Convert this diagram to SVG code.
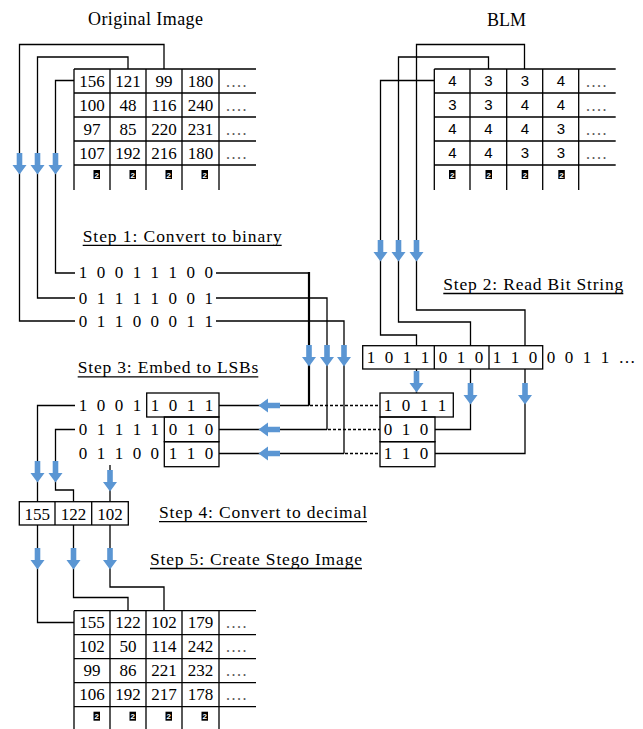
<svg xmlns="http://www.w3.org/2000/svg" xmlns:xlink="http://www.w3.org/1999/xlink" width="643" height="729" viewBox="0 0 643 729">
<style>
.bg{fill:#fff}
.ln{fill:none;stroke:#000;stroke-width:1.3}
.thick{fill:none;stroke:#000;stroke-width:2.2}
.dash{fill:none;stroke:#000;stroke-width:1.3;stroke-dasharray:3 2}
.bx{fill:none;stroke:#000;stroke-width:1.3}
.ar{fill:#5B96D3}
.num{font-family:"Liberation Serif","Times New Roman",serif;font-size:17px;fill:#000;text-anchor:middle}
.sans{font-family:"Liberation Sans",Arial,sans-serif;font-size:15px;fill:#000;text-anchor:middle}
.bits{font-family:"Liberation Serif","Times New Roman",serif;font-size:17px;letter-spacing:2.6px;fill:#000}
.step{font-family:"Liberation Serif","Times New Roman",serif;font-size:17.5px;fill:#000}
.ttl{font-family:"Liberation Serif","Times New Roman",serif;font-size:18px;fill:#000}
.dots{font-family:"Liberation Serif","Times New Roman",serif;font-size:16px;letter-spacing:1.5px;fill:#555}
.ic{fill:#000}
.ict{font-family:"Liberation Sans",Arial,sans-serif;font-size:8px;font-weight:bold;fill:#fff;text-anchor:middle}
</style>
<defs>
<path id="ad" d="M-2.8,0H2.8V12H7L0,21.5L-7,12H-2.8Z"/>
</defs>
<rect class="bg" x="0" y="0" width="643" height="729"/>

<g id="titles">
<text class="ttl" x="88" y="25" textLength="115" lengthAdjust="spacing">Original Image</text>
<text class="ttl" x="487" y="26" textLength="39" lengthAdjust="spacing">BLM</text>
</g>

<g id="original-image">
<path class="ln" d="M74,69H256M74,93H256M74,117H256M74,141H256M74,165H256M74,69V190M110,69V190M146,69V190M182,69V190M219,69V190"/>
<text class="num" x="92" y="86.5">156</text><text class="num" x="128" y="86.5">121</text><text class="num" x="164" y="86.5">99</text><text class="num" x="200.5" y="86.5">180</text>
<text class="num" x="92" y="110.5">100</text><text class="num" x="128" y="110.5">48</text><text class="num" x="164" y="110.5">116</text><text class="num" x="200.5" y="110.5">240</text>
<text class="num" x="92" y="134.5">97</text><text class="num" x="128" y="134.5">85</text><text class="num" x="164" y="134.5">220</text><text class="num" x="200.5" y="134.5">231</text>
<text class="num" x="92" y="158.5">107</text><text class="num" x="128" y="158.5">192</text><text class="num" x="164" y="158.5">216</text><text class="num" x="200.5" y="158.5">180</text>
<text class="dots" x="226" y="86.5">....</text><text class="dots" x="226" y="110.5">....</text><text class="dots" x="226" y="134.5">....</text><text class="dots" x="226" y="158.5">....</text>
<rect class="ic" x="93.5" y="170" width="6.5" height="9"/><text class="ict" x="96.75" y="177.5">2</text>
<rect class="ic" x="129.5" y="170" width="6.5" height="9"/><text class="ict" x="132.75" y="177.5">2</text>
<rect class="ic" x="165.5" y="170" width="6.5" height="9"/><text class="ict" x="168.75" y="177.5">2</text>
<rect class="ic" x="201.5" y="170" width="6.5" height="9"/><text class="ict" x="204.75" y="177.5">2</text>
</g>

<g id="blm">
<path class="ln" d="M434.3,69H615.7M434.3,93H615.7M434.3,117H615.7M434.3,141H615.7M434.3,165H615.7M434.3,69V190M470,69V190M506.7,69V190M542.7,69V190M578.7,69V190"/>
<text class="sans" x="452.5" y="86">4</text><text class="sans" x="488.5" y="86">3</text><text class="sans" x="525" y="86">3</text><text class="sans" x="561" y="86">4</text>
<text class="sans" x="452.5" y="110">3</text><text class="sans" x="488.5" y="110">3</text><text class="sans" x="525" y="110">4</text><text class="sans" x="561" y="110">4</text>
<text class="sans" x="452.5" y="134">4</text><text class="sans" x="488.5" y="134">4</text><text class="sans" x="525" y="134">4</text><text class="sans" x="561" y="134">3</text>
<text class="sans" x="452.5" y="158">4</text><text class="sans" x="488.5" y="158">4</text><text class="sans" x="525" y="158">3</text><text class="sans" x="561" y="158">3</text>
<text class="dots" x="586" y="86.5">....</text><text class="dots" x="586" y="110.5">....</text><text class="dots" x="586" y="134.5">....</text><text class="dots" x="586" y="158.5">....</text>
<rect class="ic" x="449" y="170" width="6.5" height="9"/><text class="ict" x="452.25" y="177.5">2</text>
<rect class="ic" x="485.5" y="170" width="6.5" height="9"/><text class="ict" x="488.75" y="177.5">2</text>
<rect class="ic" x="521.7" y="170" width="6.5" height="9"/><text class="ict" x="524.95" y="177.5">2</text>
<rect class="ic" x="558.3" y="170" width="6.5" height="9"/><text class="ict" x="561.55" y="177.5">2</text>
</g>

<g id="step1">
<text class="step" x="82.7" y="241.5" textLength="199" lengthAdjust="spacing">Step 1: Convert to binary</text>
<path class="ln" d="M82.7,245.3H281.7"/>
<text class="bits" x="78.8" y="278">1 0 0 1 1 1 0 0</text>
<text class="bits" x="78.8" y="303.5">0 1 1 1 1 0 0 1</text>
<text class="bits" x="78.8" y="326.5">0 1 1 0 0 0 1 1</text>
</g>

<g id="step2">
<text class="step" x="443.3" y="290" textLength="180" lengthAdjust="spacing">Step 2: Read Bit String</text>
<path class="ln" d="M443.3,293.5H623.3"/>
<rect class="bx" x="362.7" y="345.7" width="180" height="23.3"/>
<path class="ln" d="M434.3,345.7V369M489,345.7V369"/>
<text class="bits" x="366.8" y="363">1 0 1 1</text>
<text class="bits" x="438.8" y="363">0 1 0</text>
<text class="bits" x="492.8" y="363">1 1 0</text>
<text class="bits" x="546.8" y="363">0 0 1 1 …</text>
</g>

<g id="step3">
<text class="step" x="77.7" y="373" textLength="180.6" lengthAdjust="spacing">Step 3: Embed to LSBs</text>
<path class="ln" d="M77.7,376.8H258.3"/>
<text class="bits" x="78.8" y="411">1 0 0 1</text>
<text class="bits" x="78.8" y="435">0 1 1 1 1</text>
<text class="bits" x="78.8" y="459">0 1 1 0 0</text>
<rect class="bx" x="146.7" y="393" width="72.3" height="24"/>
<rect class="bx" x="164.3" y="417" width="54.7" height="24.7"/>
<rect class="bx" x="164.3" y="441.7" width="54.7" height="25"/>
<text class="bits" x="150.8" y="411">1 0 1 1</text>
<text class="bits" x="168.8" y="435">0 1 0</text>
<text class="bits" x="168.8" y="459">1 1 0</text>
</g>

<g id="bit-segments">
<rect class="bx" x="380" y="393" width="73.3" height="24"/>
<rect class="bx" x="380" y="417" width="55" height="24.7"/>
<rect class="bx" x="380" y="441.7" width="55" height="25"/>
<text class="bits" x="383.8" y="411">1 0 1 1</text>
<text class="bits" x="383.8" y="435">0 1 0</text>
<text class="bits" x="383.8" y="459">1 1 0</text>
</g>

<g id="step4">
<text class="step" x="159" y="518" textLength="208" lengthAdjust="spacing">Step 4: Convert to decimal</text>
<path class="ln" d="M159,521.7H367"/>
<rect class="bx" x="19.3" y="501.7" width="109" height="23.3"/>
<path class="ln" d="M55,501.7V525M91.7,501.7V525"/>
<text class="num" x="37.2" y="519.5">155</text>
<text class="num" x="73.4" y="519.5">122</text>
<text class="num" x="110" y="519.5">102</text>
</g>

<g id="step5">
<text class="step" x="150" y="565" textLength="212" lengthAdjust="spacing">Step 5: Create Stego Image</text>
<path class="ln" d="M150,568.5H362"/>
</g>

<g id="stego-image">
<path class="ln" d="M74,610.7H256M74,634.7H256M74,658.7H256M74,682.7H256M74,706.7H256M74,610.7V729M110,610.7V729M146,610.7V729M182,610.7V729M219,610.7V729"/>
<text class="num" x="92" y="628.2">155</text><text class="num" x="128" y="628.2">122</text><text class="num" x="164" y="628.2">102</text><text class="num" x="200.5" y="628.2">179</text>
<text class="num" x="92" y="652.2">102</text><text class="num" x="128" y="652.2">50</text><text class="num" x="164" y="652.2">114</text><text class="num" x="200.5" y="652.2">242</text>
<text class="num" x="92" y="676.2">99</text><text class="num" x="128" y="676.2">86</text><text class="num" x="164" y="676.2">221</text><text class="num" x="200.5" y="676.2">232</text>
<text class="num" x="92" y="700.2">106</text><text class="num" x="128" y="700.2">192</text><text class="num" x="164" y="700.2">217</text><text class="num" x="200.5" y="700.2">178</text>
<text class="dots" x="226" y="628.2">....</text><text class="dots" x="226" y="652.2">....</text><text class="dots" x="226" y="676.2">....</text><text class="dots" x="226" y="700.2">....</text>
<rect class="ic" x="93.5" y="711.7" width="6.5" height="9"/><text class="ict" x="96.75" y="719.2">2</text>
<rect class="ic" x="129.5" y="711.7" width="6.5" height="9"/><text class="ict" x="132.75" y="719.2">2</text>
<rect class="ic" x="165.5" y="711.7" width="6.5" height="9"/><text class="ict" x="168.75" y="719.2">2</text>
<rect class="ic" x="201.5" y="711.7" width="6.5" height="9"/><text class="ict" x="204.75" y="719.2">2</text>
</g>

<g id="connectors">
<path class="ln" d="M164,69V44.5H19.5V321H75"/>
<path class="ln" d="M128,69V57H37.5V298H75"/>
<path class="ln" d="M74,80.5H55.5V273H75"/>
<path class="ln" d="M216,273H309"/>
<path class="thick" d="M309,272V405.5"/>
<path class="ln" d="M216,298H327V429.5"/>
<path class="ln" d="M216,321H344V453.5"/>
<path class="ln" d="M219,405.5H309M219,429.5H327M219,453.5H344"/>
<path class="dash" d="M310,405.5H380M328,429.5H380M345,453.5H380"/>
<path class="ln" d="M524.5,69V44.5H416.5V310H525V345.7"/>
<path class="ln" d="M488.5,69V57H398.5V322H470.5V345.7"/>
<path class="ln" d="M434.3,80.5H380.5V335H416.5V345.7"/>
<path class="ln" d="M416.5,369V393"/>
<path class="ln" d="M470.5,369V429.5H435"/>
<path class="ln" d="M525,369V453.5H435"/>
<path class="ln" d="M75,405.5H37.5V501.7"/>
<path class="ln" d="M75,429.5H55.5V490H73.5V501.7"/>
<path class="ln" d="M110,465V501.7"/>
<path class="ln" d="M37.5,525V622.5H74"/>
<path class="ln" d="M73.5,525V597.5H128V610.7"/>
<path class="ln" d="M110,525V587H164V610.7"/>
<g class="ar">
<use xlink:href="#ad" x="19.5" y="153"/>
<use xlink:href="#ad" x="37.5" y="153"/>
<use xlink:href="#ad" x="55.5" y="153"/>
<use xlink:href="#ad" x="380.5" y="240"/>
<use xlink:href="#ad" x="398.5" y="240"/>
<use xlink:href="#ad" x="416.5" y="240"/>
<use xlink:href="#ad" x="309" y="345"/>
<use xlink:href="#ad" x="327" y="345"/>
<use xlink:href="#ad" x="344" y="345"/>
<use xlink:href="#ad" x="416.5" y="371"/>
<use xlink:href="#ad" x="470.5" y="383"/>
<use xlink:href="#ad" x="525" y="383"/>
<use xlink:href="#ad" x="37.5" y="461"/>
<use xlink:href="#ad" x="55.5" y="461"/>
<use xlink:href="#ad" x="110" y="470"/>
<use xlink:href="#ad" x="37.5" y="548"/>
<use xlink:href="#ad" x="73.5" y="548"/>
<use xlink:href="#ad" x="110" y="548"/>
<use xlink:href="#ad" transform="translate(280,405.5) rotate(90)"/>
<use xlink:href="#ad" transform="translate(280,429.5) rotate(90)"/>
<use xlink:href="#ad" transform="translate(280,453.5) rotate(90)"/>
</g>
</g>
</svg>
